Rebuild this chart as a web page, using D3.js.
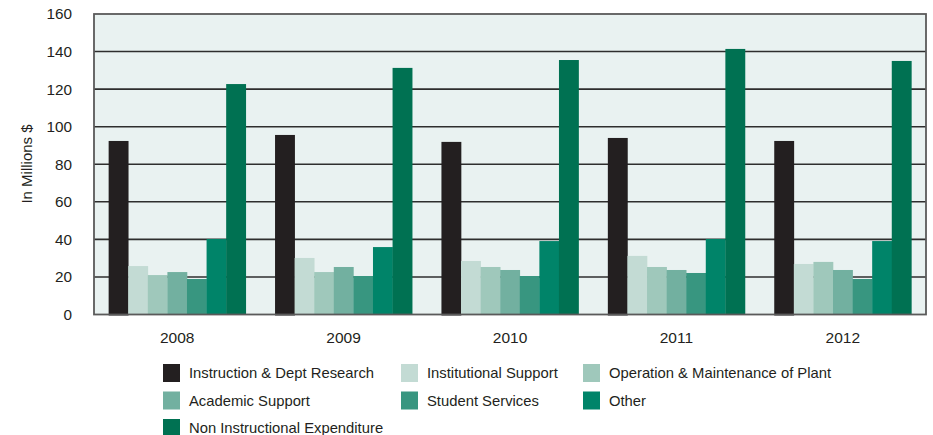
<!DOCTYPE html>
<html><head><meta charset="utf-8">
<script src="https://cdn.jsdelivr.net/npm/d3@7"></script>
<style>body{margin:0;background:#fff}svg{display:block}text{font-family:"Liberation Sans",Arial,Helvetica,sans-serif;fill:#231f20}</style>
</head><body>
<svg id="c" width="933" height="435"></svg>
<script>
const years = ["2008","2009","2010","2011","2012"];
const seriesNames = ["Instruction & Dept Research","Institutional Support","Operation & Maintenance of Plant","Academic Support","Student Services","Other","Non Instructional Expenditure"];
const instruction = [92.4, 95.6, 91.9, 94.0, 92.4];
const institutional = [25.8, 30.1, 28.5, 31.2, 26.9];
const operation = [21.0, 22.6, 25.3, 25.3, 28.0];
const academic = [22.6, 25.3, 23.7, 23.7, 23.7];
const student = [18.9, 20.5, 20.5, 22.1, 18.9];
const other = [40.2, 35.9, 39.1, 40.2, 39.1];
const nonInstructional = [122.7, 131.3, 135.5, 141.4, 135.0];
const yTicks = [0,20,40,60,80,100,120,140,160];
const colors = ["#231f20","#c3dbd4","#9fc8bb","#72b0a0","#389680","#008469","#007152"];

const seriesValues = [instruction, institutional, operation, academic, student, other, nonInstructional];
const svg = d3.select("#c");
const L=94, R=926, T=14, B=314.5;
const x0 = d3.scaleBand().domain(years).range([L,R]).paddingInner(0.176).paddingOuter(0.088);
const x1 = d3.scaleBand().domain(d3.range(seriesNames.length)).range([0,x0.bandwidth()]);
const y = d3.scaleLinear().domain([0,160]).range([B,T]);

svg.append("rect").attr("x",L).attr("y",T).attr("width",R-L).attr("height",B-T).attr("fill","#e9f2f1");
// gridlines
svg.append("g").selectAll("line").data(yTicks.filter(d=>d>0&&d<160)).join("line")
  .attr("x1",L).attr("x2",R).attr("y1",d=>y(d)).attr("y2",d=>y(d))
  .attr("stroke","#2e2e2e").attr("stroke-width",1.6);

// bars
const g = svg.append("g").selectAll("g").data(years).join("g")
  .attr("transform",d=>`translate(${x0(d)},0)`);
g.selectAll("rect").data((yr,i)=>seriesValues.map((s,k)=>({k,v:s[i]}))).join("rect")
  .attr("x",d=>x1(d.k)).attr("width",x1.bandwidth()+0.3)
  .attr("y",d=>y(d.v)).attr("height",d=>B-y(d.v)+(d.k===0?1:0))
  .attr("fill",d=>colors[d.k]);

// border
svg.append("rect").attr("x",L).attr("y",T).attr("width",R-L).attr("height",B-T)
  .attr("fill","none").attr("stroke","#5a5a5a").attr("stroke-width",1.8);

// y axis
const ya = svg.append("g").attr("transform",`translate(${L},0)`)
  .call(d3.axisLeft(y).tickValues(yTicks).tickSize(0).tickPadding(22));
ya.select(".domain").remove();
ya.selectAll("text").style("font-size","15.3px").attr("fill","#231f20").style("font-family","'Liberation Sans',Arial,sans-serif");

// x axis
const xa = svg.append("g").attr("transform",`translate(0,${B})`)
  .call(d3.axisBottom(x0).tickSize(0).tickPadding(17));
xa.select(".domain").remove();
xa.selectAll("text").style("font-size","15.5px").attr("fill","#231f20").style("font-family","'Liberation Sans',Arial,sans-serif");

svg.append("text").attr("transform","translate(32,164) rotate(-90)").attr("text-anchor","middle")
  .style("font-size","15px").text("In Millions $");

// legend
const colX = [163, 401, 583];
const rowY = [373, 400.5, 428];
const lg = svg.append("g").selectAll("g").data(seriesNames).join("g")
  .attr("transform",(d,i)=>`translate(${colX[i%3]},${rowY[Math.floor(i/3)]})`);
lg.append("rect").attr("x",0).attr("y",-9).attr("width",17).attr("height",18).attr("fill",(d,i)=>colors[i]);
lg.append("text").attr("x",26).attr("y",0).attr("dy","0.35em").style("font-size","14.8px").text(d=>d);
</script>
</body></html>
